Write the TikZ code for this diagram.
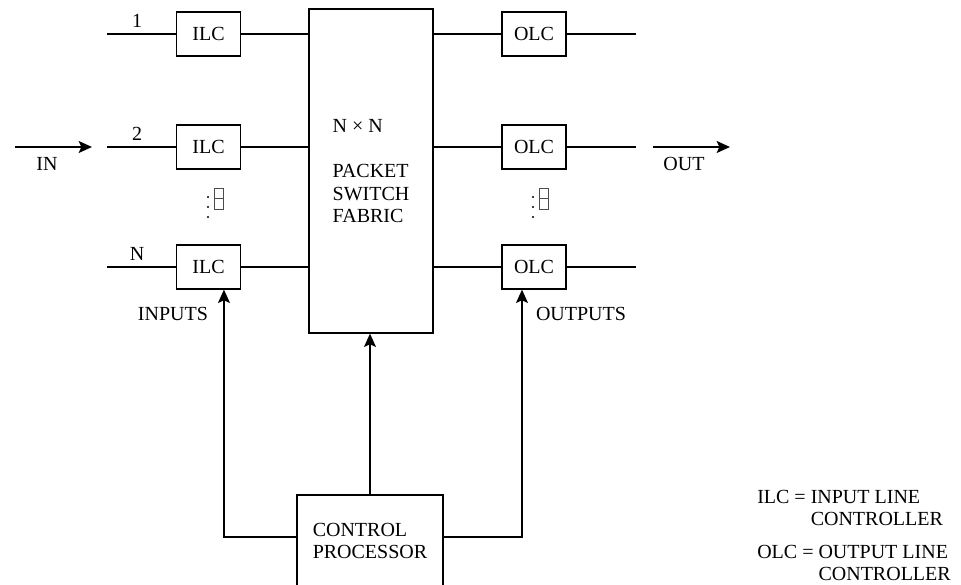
\documentclass[tikz,border=0pt]{standalone}
\usepackage{fontspec}
\setmainfont{Liberation Serif}
\usetikzlibrary{arrows.meta}

\begin{document}
\begin{tikzpicture}[x=0.75pt, y=-0.75pt,
    every node/.style={font=\fontsize{15}{17}\selectfont},
    wire/.style={line width=1pt},
    flow/.style={wire, -{Stealth[length=10pt, width=9pt, inset=2pt]}},
    lc/.style={draw, line width=1pt, inner sep=0pt, minimum width=48pt, minimum height=33pt},
    bigbox/.style={draw, line width=1pt, inner sep=0pt, align=left},
    dotmark/.style={line width=0.5pt, draw=black!70}]
  \useasboundingbox (0,0) rectangle (961,585);

  % switch fabric and the control processor under it
  \node[bigbox, minimum width=93pt, minimum height=243pt] (fabric) at (371,171)
    {N × N\\[17pt]PACKET\\SWITCH\\FABRIC};
  \node[bigbox, minimum width=109.5pt, minimum height=69pt] (ctrl) at (370,541)
    {CONTROL\\PROCESSOR};

  % one row of line controllers: \r = row name, \y = height of the line
  \foreach \r/\y in {1/34, 2/147, N/267} {
    \node[lc] (ilc\r) at (208.5,\y) {ILC};
    \node[lc] (olc\r) at (534,\y) {OLC};
    \node (num\r) at (137,\y-13) {\r};
    \coordinate (in\r) at (107,\y);
    \coordinate (out\r) at (636,\y);
    \draw[wire] (in\r) -- (ilc\r);
    \draw[wire] (ilc\r) -- (ilc\r -| fabric.west);
    \draw[wire] (olc\r -| fabric.east) -- (olc\r);
    \draw[wire] (olc\r) -- (out\r);
  }

  % the vertical dots between row 2 and row N
  \foreach \x in {208,533} {
    \foreach \d in {197,207,217}
      \fill (\x,\d) circle (1.2);
    \draw[dotmark] (\x+6,188) rectangle (\x+15,209);
    \draw[dotmark] (\x+6,198.5) -- (\x+15,198.5);
  }

  % traffic in and out
  \coordinate (inA) at (15,147);
  \coordinate (inB) at (92,147);
  \coordinate (outA) at (653,147);
  \coordinate (outB) at (730,147);
  \draw[flow] (inA) -- (inB);
  \draw[flow] (outA) -- (outB);
  \node (inlab) at (47,164) {IN};
  \node (outlab) at (684,164) {OUT};
  \node (inputs) at (173,314) {INPUTS};
  \node (outputs) at (581,314) {OUTPUTS};

  % control paths
  \draw[flow] ([yshift=3pt]ctrl.west) -| ([xshift=11.6pt]ilcN.south);
  \draw[flow] ([yshift=3pt]ctrl.east) -| ([xshift=-9pt]olcN.south);
  \draw[flow] (ctrl.north) -- (ctrl.north |- fabric.south);

  % key
  \node[anchor=base west, inner sep=0pt] (keyI) at (757,503)
    {\begin{tabular}[t]{@{}l@{ }c@{ }l@{}}ILC & = & INPUT LINE\\ & & CONTROLLER\end{tabular}};
  \node[anchor=base west, inner sep=0pt] (keyO) at (757,558)
    {\begin{tabular}[t]{@{}l@{ }c@{ }l@{}}OLC & = & OUTPUT LINE\\ & & CONTROLLER\end{tabular}};
\end{tikzpicture}
\end{document}
